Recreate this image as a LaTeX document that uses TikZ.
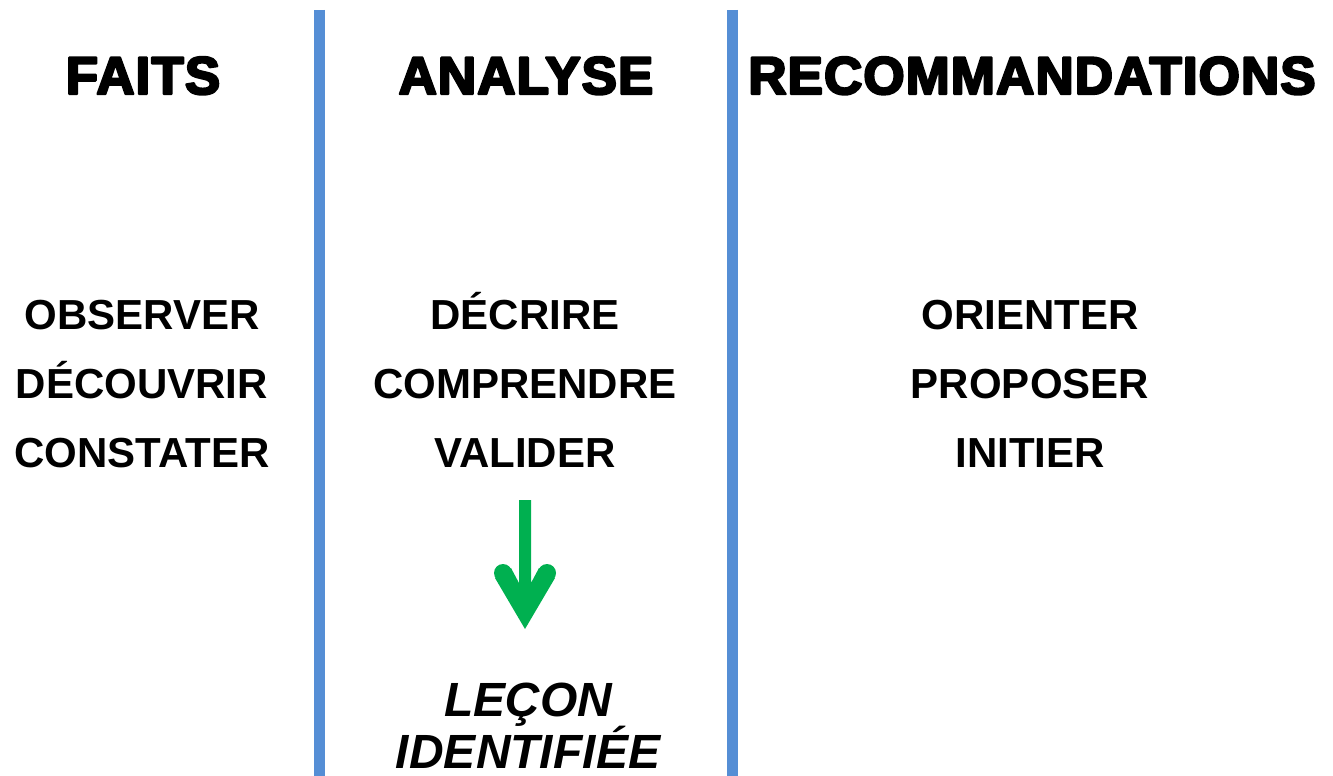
\documentclass[tikz,border=0pt]{standalone}
\usepackage{fontspec}
\setmainfont{Liberation Sans}
\newfontfamily\headfont[LetterSpace=2]{Liberation Sans}
\definecolor{sepblue}{RGB}{85,142,213}
\definecolor{arrgreen}{RGB}{0,176,80}
\newcommand\strokedtxt[1]{\special{pdf:literal 2 Tr 2.4 w 1 j}#1\special{pdf:literal 0 Tr}}
\begin{document}
\begin{tikzpicture}[x=1pt,y=-1pt,
  sep/.style={draw=sepblue,line width=11pt},
  head/.style={anchor=base,inner sep=0pt,font=\headfont\bfseries\fontsize{53}{53}\selectfont},
  item/.style={anchor=base,inner sep=0pt,font=\bfseries\fontsize{42}{42}\selectfont},
  lesson/.style={anchor=base,inner sep=0pt,font=\bfseries\itshape\fontsize{48}{48}\selectfont}]
\useasboundingbox (0,0) rectangle (1333,776);
\coordinate (s1t) at (319,10); \coordinate (s1b) at (319,776);
\coordinate (s2t) at (732,10); \coordinate (s2b) at (732,776);
\draw[sep] (s1t) -- (s1b);
\draw[sep] (s2t) -- (s2b);
\node[head] (h1) at (143,94) {\strokedtxt{FAITS}};
\node[head] (h2) at (526,94) {\strokedtxt{ANALYSE}};
\node[head] (h3) at (1032,94) {\strokedtxt{RECOMMANDATIONS}};
\node[item] (a1) at (142,329) {OBSERVER};
\node[item] (a2) at (142,398) {DÉCOUVRIR};
\node[item] (a3) at (142,467) {CONSTATER};
\node[item] (b1) at (525,329) {DÉCRIRE};
\node[item] (b2) at (525,398) {COMPRENDRE};
\node[item] (b3) at (525,467) {VALIDER};
\node[item] (c1) at (1030,329) {ORIENTER};
\node[item] (c2) at (1030,398) {PROPOSER};
\node[item] (c3) at (1030,467) {INITIER};
\node[lesson] (l1) at (528,716) {LEÇON};
\node[lesson] (l2) at (528,768) {IDENTIFIÉE};
\coordinate (ar0) at (519,500);
\coordinate (ar0r) at (531,500);
\coordinate (tip) at (525,629);
\coordinate (alc) at (503,573);
\coordinate (arc) at (547,573);
\fill[arrgreen] (tip) -- (495,578) -- (511,568) -- (519,583) -- (ar0) -- (ar0r)
  -- (531,583) -- (539,568) -- (555,578) -- cycle;
\fill[arrgreen] (alc) circle (9);
\fill[arrgreen] (arc) circle (9);
\end{tikzpicture}
\end{document}
